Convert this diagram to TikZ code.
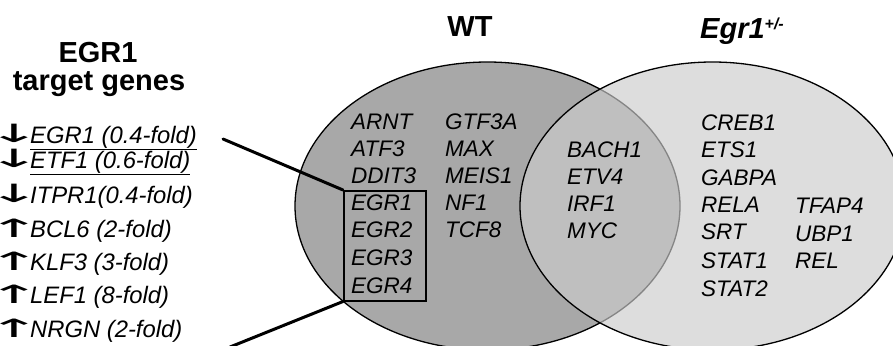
\documentclass[tikz,border=0pt]{standalone}
\usepackage{fontspec}
\setmainfont{Liberation Sans}
\newfontfamily\arrowfont{DejaVu Sans}
\usetikzlibrary{shapes.geometric}
\definecolor{wtfill}{RGB}{168,168,168}
\definecolor{mutfill}{RGB}{203,203,203}
\newcommand{\dnarr}{\scalebox{2.7}[1.05]{↓}}
\newcommand{\uparr}{\scalebox{2.7}[1.05]{↑}}
\begin{document}
\begin{tikzpicture}[x=1pt,y=-1pt,
 gene/.style={anchor=base west, inner sep=0pt, font=\fontsize{22.5}{22.5}\selectfont\itshape},
 listgene/.style={anchor=base west, inner sep=0pt, font=\fontsize{23.8}{23.8}\selectfont\itshape},
 arr/.style={anchor=base, inner sep=0pt, font=\fontsize{24}{24}\selectfont\arrowfont},
 head/.style={anchor=base, inner sep=0pt, font=\fontsize{29}{29}\selectfont\bfseries},
 venn/.style={ellipse, draw=black, line width=1.3pt, minimum width=385pt, minimum height=288pt, inner sep=0pt},
 link/.style={line width=3pt, line cap=round}]
\useasboundingbox (0,0) rectangle (893,345);
% ellipses
\node[venn, fill=wtfill] (wt) at (487.5,206) {};
\node[venn, fill=mutfill, fill opacity=0.66] (mut) at (712.5,206) {};
% box around EGR genes
\node[draw=black, line width=1.5pt, minimum width=82pt, minimum height=110pt, inner sep=0pt, anchor=north west] (box) at (343,190) {};
% connector lines
\coordinate (l1) at (223,139);
\coordinate (l2) at (230,347);
\draw[link] (l1) -- (box.north west);
\draw[link] (box.south west) -- (l2);
% headers
\node[head] (h1) at (98,63) {EGR1};
\node[head] (h2) at (99,90) {target genes};
\node[head] (h3) at (470,37) {WT};
\node[anchor=base west, inner sep=0pt, font=\fontsize{29}{29}\selectfont\bfseries\itshape] (h4) at (700,38) {Egr1\raisebox{9pt}{\fontsize{16}{16}\selectfont +/-}};
% left list
\node[arr] (a1) at (14,142) {\dnarr};
\node[listgene] (t1) at (30,143) {\underline{EGR1 (0.4-fold)}};
\node[arr] (a2) at (14,167) {\dnarr};
\node[listgene] (t2) at (30,168) {\underline{ETF1 (0.6-fold)}};
\node[arr] (a3) at (14,202) {\dnarr};
\node[listgene] (t3) at (30,203) {ITPR1(0.4-fold)};
\node[arr] (a4) at (14,237) {\uparr};
\node[listgene] (t4) at (30,237) {BCL6 (2-fold)};
\node[arr] (a5) at (14,270) {\uparr};
\node[listgene] (t5) at (30,270) {KLF3 (3-fold)};
\node[arr] (a6) at (14,303) {\uparr};
\node[listgene] (t6) at (30,303) {LEF1 (8-fold)};
\node[arr] (a7) at (14,337) {\uparr};
\node[listgene] (t7) at (30,337) {NRGN (2-fold)};
% WT only, column 1
\node[gene] (w1) at (351,129) {ARNT};
\node[gene] (w2) at (351,156) {ATF3};
\node[gene] (w3) at (351,183) {DDIT3};
\node[gene] (w4) at (351,210) {EGR1};
\node[gene] (w5) at (351,237) {EGR2};
\node[gene] (w6) at (351,265) {EGR3};
\node[gene] (w7) at (351,293) {EGR4};
% WT only, column 2
\node[gene] (v1) at (445,129) {GTF3A};
\node[gene] (v2) at (445,156) {MAX};
\node[gene] (v3) at (445,183) {MEIS1};
\node[gene] (v4) at (445,210) {NF1};
\node[gene] (v5) at (445,237) {TCF8};
% overlap
\node[gene] (o1) at (567,157) {BACH1};
\node[gene] (o2) at (567,184) {ETV4};
\node[gene] (o3) at (567,211) {IRF1};
\node[gene] (o4) at (567,238) {MYC};
% Egr1+/- only
\node[gene] (m1) at (701,130) {CREB1};
\node[gene] (m2) at (701,157) {ETS1};
\node[gene] (m3) at (701,185) {GABPA};
\node[gene] (m4) at (701,212) {RELA};
\node[gene] (m5) at (701,239) {SRT};
\node[gene] (m6) at (701,268) {STAT1};
\node[gene] (m7) at (701,296) {STAT2};
\node[gene] (n1) at (795,213) {TFAP4};
\node[gene] (n2) at (795,241) {UBP1};
\node[gene] (n3) at (795,268) {REL};
\end{tikzpicture}
\end{document}
